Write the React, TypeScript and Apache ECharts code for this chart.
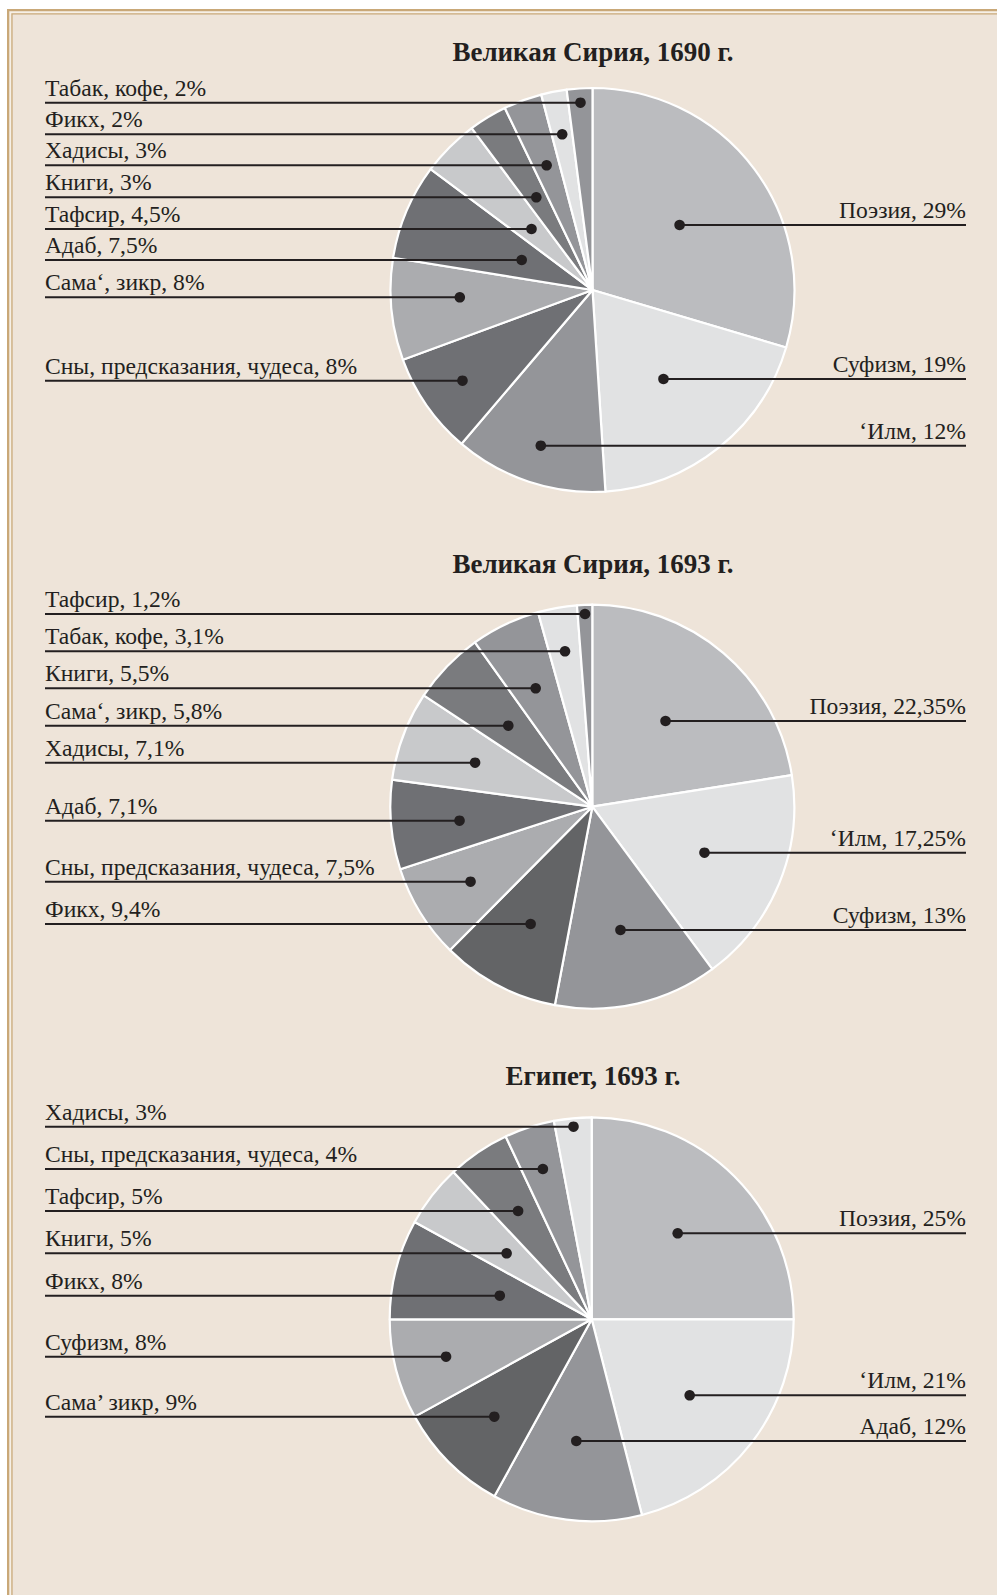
import React, { useEffect, useRef } from "react";
import * as echarts from "echarts";

// ---------- data ----------
const TITLES = ["Великая Сирия, 1690 г.", "Великая Сирия, 1693 г.", "Египет, 1693 г."];

const CATS_1 = ["Поэзия", "Суфизм", "‘Илм", "Сны, предсказания, чудеса", "Сама‘, зикр", "Адаб", "Тафсир", "Книги", "Хадисы", "Фикх", "Табак, кофе"];
const VALUES_1 = [29, 19, 12, 8, 8, 7.5, 4.5, 3, 3, 2, 2];

const CATS_2 = ["Поэзия", "‘Илм", "Суфизм", "Фикх", "Сны, предсказания, чудеса", "Адаб", "Хадисы", "Сама‘, зикр", "Книги", "Табак, кофе", "Тафсир"];
const VALUES_2 = [22.35, 17.25, 13, 9.4, 7.5, 7.1, 7.1, 5.8, 5.5, 3.1, 1.2];

const CATS_3 = ["Поэзия", "‘Илм", "Адаб", "Сама’ зикр", "Суфизм", "Фикх", "Книги", "Тафсир", "Сны, предсказания, чудеса", "Хадисы"];
const VALUES_3 = [25, 21, 12, 9, 8, 8, 5, 5, 4, 3];

// ---------- styles / layout ----------
const COLORS_1 = ["#bbbcbf", "#e1e2e3", "#949599", "#6f7074", "#abacaf", "#6f7074", "#c8c9cb", "#7a7b7e", "#949599", "#e1e2e3", "#949599"];
const COLORS_2 = ["#bbbcbf", "#e1e2e3", "#949599", "#636466", "#abacaf", "#6f7074", "#c8c9cb", "#7a7b7e", "#949599", "#e1e2e3", "#949599"];
const COLORS_3 = ["#bbbcbf", "#e1e2e3", "#949599", "#636466", "#abacaf", "#6f7074", "#c8c9cb", "#7a7b7e", "#949599", "#e1e2e3"];

// y of each label's leader line (layout)
const ROWS_1 = [225, 379, 445.7, 380.7, 297.3, 260, 229, 197.3, 165.3, 134.3, 102.7];
const ROWS_2 = [721, 852.7, 930, 924, 881.7, 820.7, 762.7, 725.7, 688.3, 651.3, 614];
const ROWS_3 = [1233.3, 1395.3, 1441, 1416.7, 1356.7, 1295.7, 1253.3, 1211, 1169, 1126.7];
const RIGHT_COUNT = 3; // first slices labelled on the right side

const CENTERS = [
  [592.5, 290],
  [592.3, 806.7],
  [591.7, 1319.3],
];
const RADIUS = 202;
const TITLE_TOPS = [38.5, 550, 1062.5];
const LEFT_X = 45;
const RIGHT_X = 966;
const FONT = "'Liberation Serif', 'DejaVu Serif', serif";
const INK = "#231f20";

const PIES = [
  { cats: CATS_1, values: VALUES_1, colors: COLORS_1, rows: ROWS_1 },
  { cats: CATS_2, values: VALUES_2, colors: COLORS_2, rows: ROWS_2 },
  { cats: CATS_3, values: VALUES_3, colors: COLORS_3, rows: ROWS_3 },
];

function midAngles(values: number[]) {
  const total = values.reduce((a, b) => a + b, 0);
  let acc = 0;
  return values.map((v) => {
    const m = ((acc + v / 2) / total) * Math.PI * 2;
    acc += v;
    return m;
  });
}

function dotX(theta: number, lineY: number, cx: number, cy: number) {
  const c = Math.cos(theta);
  const s = Math.sin(theta);
  if (Math.abs(c) < 0.2) return cx + 0.66 * RADIUS * s;
  return cx + ((cy - lineY) * s) / c;
}

const fmt = (v: number) => String(v).replace(".", ",");

export default function App() {
  const ref = useRef<HTMLDivElement>(null);
  useEffect(() => {
    if (!ref.current) return;
    const chart = echarts.init(ref.current, undefined, { renderer: "svg" });

    const dots: any[] = [];
    const geo = PIES.map((p, pi) => {
      const [cx, cy] = CENTERS[pi];
      const mids = midAngles(p.values);
      return mids.map((t, i) => {
        const y = p.rows[i];
        const x = dotX(t, y, cx, cy);
        dots.push({
          type: "circle",
          z: 50,
          shape: { cx: x, cy: y, r: 5.3 },
          style: { fill: INK },
          silent: true,
        });
        return { x, y, right: i < RIGHT_COUNT };
      });
    });

    const frame = [
      { type: "rect", z: -10, shape: { x: 7, y: 9, width: 1100, height: 1700 }, style: { fill: "#c9a878" } },
      { type: "rect", z: -9, shape: { x: 9.3, y: 11.3, width: 1100, height: 1700 }, style: { fill: "#f6f0e7" } },
      { type: "rect", z: -8, shape: { x: 11.3, y: 13.3, width: 1100, height: 1700 }, style: { fill: "#c9a878" } },
      { type: "rect", z: -7, shape: { x: 12.6, y: 14.6, width: 1100, height: 1700 }, style: { fill: "#eee4d9" } },
    ];

    // sectors
    const sectorSeries = PIES.map((p, pi) => ({
      type: "pie",
      z: 2,
      center: CENTERS[pi],
      radius: RADIUS,
      startAngle: 90,
      clockwise: true,
      silent: true,
      itemStyle: { borderColor: "#ffffff", borderWidth: 2.2 },
      label: { show: false },
      labelLine: { show: false },
      data: p.values.map((v, i) => ({
        name: p.cats[i],
        value: v,
        itemStyle: { color: p.colors[i] },
      })),
    }));

    // labels with leader lines, drawn above the sectors
    const labelSeries = PIES.map((p, pi) => ({
      type: "pie",
      z: 5,
      center: CENTERS[pi],
      radius: RADIUS,
      startAngle: 90,
      clockwise: true,
      avoidLabelOverlap: false,
      silent: true,
      itemStyle: { color: "rgba(0,0,0,0)", borderWidth: 0 },
      label: {
        show: true,
        position: "outside",
        fontFamily: FONT,
        fontSize: 23.6,
        color: INK,
        formatter: (q: any) => `${q.name}, ${fmt(q.value)}%`,
      },
      labelLine: { show: true, showAbove: true, lineStyle: { color: INK, width: 1.9 } },
      labelLayout: (params: any) => {
        const g = geo[pi][params.dataIndex];
        const lx = g.right ? RIGHT_X : LEFT_X;
        return {
          x: lx,
          y: g.y - 3,
          align: g.right ? "right" : "left",
          verticalAlign: "bottom",
          labelLinePoints: [
            [g.x, g.y],
            [lx, g.y],
            [lx, g.y],
          ],
        };
      },
      data: p.values.map((v, i) => ({ name: p.cats[i], value: v })),
    }));

    chart.setOption({
      animation: false,
      backgroundColor: "#ffffff",
      title: TITLES.map((t, i) => ({
        text: t,
        left: 593,
        top: TITLE_TOPS[i],
        textAlign: "center",
        padding: 0,
        textStyle: { fontFamily: FONT, fontSize: 27, fontWeight: "bold", color: INK },
      })),
      graphic: [...frame, ...dots],
      series: [...sectorSeries, ...labelSeries],
    });

    return () => chart.dispose();
  }, []);

  return (
    <div
      ref={ref}
      style={{ position: "absolute", left: 0, top: 0, width: 997, height: 1595 }}
    />
  );
}
